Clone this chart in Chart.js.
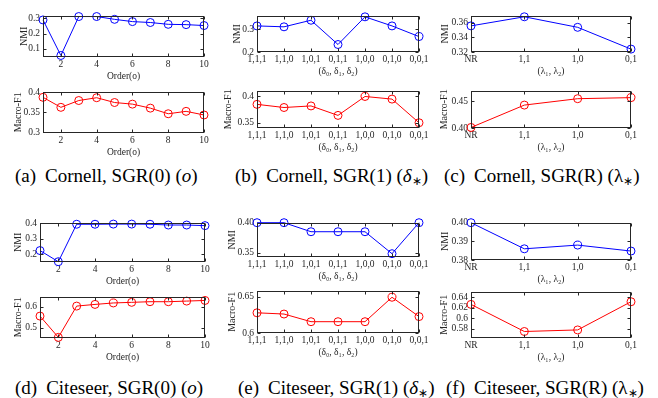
<!DOCTYPE html>
<html>
<head>
<meta charset="utf-8">
<script src="https://cdn.jsdelivr.net/npm/chart.js@4.4.1/dist/chart.umd.min.js"></script>
<style>
    body { margin: 0; background: #fff; width: 658px; height: 398px; position: relative; overflow: hidden; font-family: "Liberation Serif", serif; }
    canvas { position: absolute; }
    .cap { position: absolute; font-family: "Liberation Serif", serif; font-size: 19px; white-space: nowrap; color: #000; line-height: 1; }
    .cap .tag { margin-right: 9px; }
    .cap sub { font-size: 12px; vertical-align: -3px; line-height: 0; }
</style>
</head>
<body>
<div class="cap" style="left:15px; top:166px;"><span class="tag">(a)</span>Cornell, SGR(0) (<i>o</i>)</div>
<div class="cap" style="left:235px; top:166px;"><span class="tag">(b)</span>Cornell, SGR(1) (<i>δ</i><sub>∗</sub>)</div>
<div class="cap" style="left:444px; top:166px;"><span class="tag">(c)</span>Cornell, SGR(R) (λ<sub>∗</sub>)</div>
<div class="cap" style="left:15px; top:378px;"><span class="tag">(d)</span>Citeseer, SGR(0) (<i>o</i>)</div>
<div class="cap" style="left:238px; top:378px;"><span class="tag">(e)</span>Citeseer, SGR(1) (<i>δ</i><sub>∗</sub>)</div>
<div class="cap" style="left:446px; top:378px;"><span class="tag">(f)</span>Citeseer, SGR(R) (λ<sub>∗</sub>)</div>

<script>
// categories
const orders = [1, 2, 3, 4, 5, 6, 7, 8, 9, 10];
const orderTicks = [2, 4, 6, 8, 10];
const deltaLabels = ['1,1,1', '1,1,0', '1,0,1', '0,1,1', '1,0,0', '0,1,0', '0,0,1'];
const lambdaLabels = ['NR', '1,1', '1,0', '0,1'];

// Cornell
const cornellOrderNMI = [0.290, 0.055, 0.3125, 0.3125, 0.294, 0.279, 0.273, 0.261, 0.259, 0.253];
const cornellOrderF1 = [0.387, 0.362, 0.379, 0.386, 0.374, 0.370, 0.360, 0.346, 0.352, 0.343];
const cornellDeltaNMI = [0.315, 0.311, 0.340, 0.233, 0.355, 0.315, 0.268];
const cornellDeltaF1 = [0.385, 0.379, 0.382, 0.364, 0.400, 0.395, 0.350];
const cornellLambdaNMI = [0.356, 0.3685, 0.354, 0.324];
const cornellLambdaF1 = [0.401, 0.443, 0.455, 0.457];

// Citeseer
const citeseerOrderNMI = [0.224, 0.152, 0.394, 0.394, 0.395, 0.395, 0.394, 0.389, 0.389, 0.385];
const citeseerOrderF1 = [0.555, 0.453, 0.603, 0.611, 0.618, 0.621, 0.624, 0.624, 0.627, 0.630];
const citeseerDeltaNMI = [0.400, 0.400, 0.385, 0.385, 0.385, 0.3485, 0.400];
const citeseerDeltaF1 = [0.6277, 0.626, 0.6155, 0.6155, 0.6155, 0.649, 0.6225];
const citeseerLambdaNMI = [0.400, 0.386, 0.388, 0.3848];
const citeseerLambdaF1 = [0.6266, 0.5745, 0.5775, 0.6317];

// y tick labels per panel
const ticksA1 = ['0.1', '0.2', '0.3'];
const ticksA2 = ['0.3', '0.35', '0.4'];
const ticksB1 = ['0.2', '0.3'];
const ticksB2 = ['0.35', '0.4'];
const ticksC1 = ['0.32', '0.34', '0.36'];
const ticksC2 = ['0.40', '0.45'];
const ticksD1 = ['0.2', '0.3', '0.4'];
const ticksD2 = ['0.5', '0.6'];
const ticksE1 = ['0.35', '0.40'];
const ticksE2 = ['0.6', '0.65'];
const ticksF1 = ['0.38', '0.39', '0.40'];
const ticksF2 = ['0.58', '0.6', '0.62', '0.64'];

const BLUE = '#0000ff', RED = '#ff0000', AXIS = '#262626';
const FONT = '"Liberation Serif", serif';

const xKinds = {
    order: { labels: orders, title: 'Order(o)' },
    delta: { labels: deltaLabels, title: '(δ₀, δ₁, δ₂)' },
    lambda: { labels: lambdaLabels, title: '(λ₁, λ₂)' }
};

// rect = [left, top, right, bottom] of the plot box, yo = distance of y title from axis
const panels = [
    { rect: [43, 13, 204, 57], yo: 19, kind: 'order', values: cornellOrderNMI, color: BLUE, ytitle: 'NMI', yt: ticksA1, ymin: 0.045, ymax: 0.318 },
    { rect: [43, 89, 204, 133], yo: 25, kind: 'order', values: cornellOrderF1, color: RED, ytitle: 'Macro-F1', yt: ticksA2, ymin: 0.298, ymax: 0.401 },
    { rect: [257, 13, 419, 52], yo: 20, kind: 'delta', values: cornellDeltaNMI, color: BLUE, ytitle: 'NMI', yt: ticksB1, ymin: 0.2, ymax: 0.36 },
    { rect: [257, 88, 419, 128], yo: 29, kind: 'delta', values: cornellDeltaF1, color: RED, ytitle: 'Macro-F1', yt: ticksB2, ymin: 0.34, ymax: 0.411 },
    { rect: [471, 13, 631, 52], yo: 26, kind: 'lambda', values: cornellLambdaNMI, color: BLUE, ytitle: 'NMI', yt: ticksC1, ymin: 0.32, ymax: 0.37 },
    { rect: [471, 88, 631, 128], yo: 27, kind: 'lambda', values: cornellLambdaF1, color: RED, ytitle: 'Macro-F1', yt: ticksC2, ymin: 0.40, ymax: 0.47 },
    { rect: [40, 220, 205, 262], yo: 22, kind: 'order', values: citeseerOrderNMI, color: BLUE, ytitle: 'NMI', yt: ticksD1, ymin: 0.15, ymax: 0.404 },
    { rect: [40, 294, 205, 338], yo: 22, kind: 'order', values: citeseerOrderF1, color: RED, ytitle: 'Macro-F1', yt: ticksD2, ymin: 0.45, ymax: 0.648 },
    { rect: [257, 220, 419, 257], yo: 25, kind: 'delta', values: citeseerDeltaNMI, color: BLUE, ytitle: 'NMI', yt: ticksE1, ymin: 0.343, ymax: 0.40 },
    { rect: [257, 288, 419, 333], yo: 25, kind: 'delta', values: citeseerDeltaF1, color: RED, ytitle: 'Macro-F1', yt: ticksE2, ymin: 0.6, ymax: 0.658 },
    { rect: [471, 220, 631, 260], yo: 26, kind: 'lambda', values: citeseerLambdaNMI, color: BLUE, ytitle: 'NMI', yt: ticksF1, ymin: 0.38, ymax: 0.40 },
    { rect: [471, 289, 631, 338], yo: 27, kind: 'lambda', values: citeseerLambdaF1, color: RED, ytitle: 'Macro-F1', yt: ticksF2, ymin: 0.562, ymax: 0.651 }
];

// MATLAB-like box with inward ticks on all four sides
const boxPlugin = {
    id: 'box',
    afterDraw(chart) {
        const { ctx, chartArea: a, scales: { x, y } } = chart;
        const L = Math.round(a.left) + 0.5, R = Math.round(a.right) - 0.5;
        const T = Math.round(a.top) + 0.5, B = Math.round(a.bottom) - 0.5;
        ctx.save();
        ctx.strokeStyle = AXIS;
        ctx.lineWidth = 1;
        ctx.beginPath();
        x.ticks.forEach((t, i) => {
            const px = Math.round(x.getPixelForTick(i)) + 0.5;
            ctx.moveTo(px, B); ctx.lineTo(px, B - 3);
            ctx.moveTo(px, T); ctx.lineTo(px, T + 3);
        });
        y.ticks.forEach((t, i) => {
            const py = Math.round(y.getPixelForTick(i)) + 0.5;
            ctx.moveTo(L, py); ctx.lineTo(L + 3, py);
            ctx.moveTo(R, py); ctx.lineTo(R - 3, py);
        });
        ctx.stroke();
        ctx.strokeRect(L, T, R - L, B - T);
        ctx.restore();
    }
};

function makePanel(p) {
    const [l, t, r, b] = p.rect;
    const padT = 6, padR = 12, xH = 25;
    const yW = p.yo + 6;
    const kind = xKinds[p.kind];
    const canvas = document.createElement('canvas');
    const w = Math.round(r - l + yW + padR), h = Math.round(b - t + padT + xH);
    canvas.width = w; canvas.height = h;
    canvas.style.width = w + 'px'; canvas.style.height = h + 'px';
    canvas.style.left = (l - yW) + 'px';
    canvas.style.top = (t - padT) + 'px';
    document.body.appendChild(canvas);

    const isOrder = p.kind === 'order';
    const yVals = p.yt.map(Number);

    const xScale = isOrder
        ? { type: 'linear', min: 1, max: 10,
            afterBuildTicks: s => { s.ticks = orderTicks.map(v => ({ value: v })); } }
        : { type: 'category', offset: false };

    new Chart(canvas, {
        type: 'line',
        data: {
            labels: isOrder ? undefined : kind.labels,
            datasets: [{
                data: isOrder ? orders.map((o, i) => ({ x: o, y: p.values[i] })) : p.values,
                borderColor: p.color,
                borderWidth: 1,
                pointStyle: 'circle',
                pointRadius: 4,
                pointBorderWidth: 1,
                pointBorderColor: p.color,
                pointBackgroundColor: 'rgba(0,0,0,0)',
                tension: 0,
                clip: false
            }]
        },
        options: {
            responsive: false,
            animation: false,
            devicePixelRatio: 1,
            events: [],
            layout: { padding: { top: padT, right: padR, left: 0, bottom: 0 } },
            plugins: { legend: { display: false }, tooltip: { enabled: false } },
            scales: {
                x: {
                    ...xScale,
                    grid: { display: false, drawTicks: false },
                    border: { display: false },
                    ticks: {
                        color: AXIS, padding: 2, maxRotation: 0, autoSkip: false,
                        font: { family: FONT, size: 9.5 },
                        callback: isOrder ? (v => String(v)) : function (v) { return this.getLabelForValue(v); }
                    },
                    title: { display: true, text: kind.title, color: AXIS, padding: 0, font: { family: FONT, size: 9.5 } },
                    afterFit: s => { s.height = xH; }
                },
                y: {
                    min: p.ymin, max: p.ymax,
                    afterBuildTicks: s => { s.ticks = yVals.map(v => ({ value: v })); },
                    grid: { display: false, drawTicks: false },
                    border: { display: false },
                    ticks: {
                        color: AXIS, padding: 3,
                        font: { family: FONT, size: 9.5 },
                        callback: v => p.yt[yVals.indexOf(v)] ?? ''
                    },
                    title: { display: true, text: p.ytitle, color: AXIS, padding: 0, font: { family: FONT, size: 10 } },
                    afterFit: s => { s.width = yW; }
                }
            }
        },
        plugins: [boxPlugin]
    });
}

// wait for the serif face so canvas text does not fall back to sans
Promise.all([
    document.fonts.load('10px "Liberation Serif"'),
    document.fonts.load('italic 19px "Liberation Serif"')
]).catch(() => {}).then(() => panels.forEach(makePanel));
</script>
</body>
</html>
